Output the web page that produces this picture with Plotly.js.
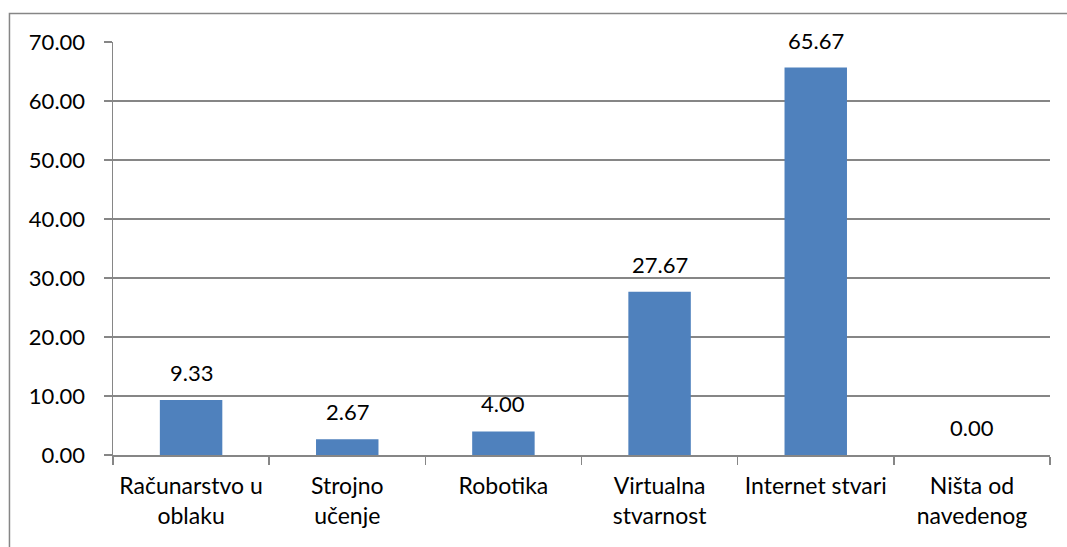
<!DOCTYPE html>
<html>
<head>
<meta charset="utf-8">
<script src="https://cdn.plot.ly/plotly-3.0.1.min.js"></script>
<style>html,body{margin:0;padding:0;background:#fff;}#chart{width:1067px;height:547px;}</style>
</head>
<body>
<div id="chart"></div>
<script>
const categories = ["Računarstvo u<br>oblaku", "Strojno<br>učenje", "Robotika", "Virtualna<br>stvarnost", "Internet stvari", "Ništa od<br>navedenog"];
const values = [9.33, 2.67, 4.00, 27.67, 65.67, 0.00];
const yTicks = [0, 10, 20, 30, 40, 50, 60, 70];

const fontFam = "Lato, 'Open Sans', sans-serif";
const grey = "#868686";

const annotations = categories.map((c, i) => ({
  x: c, y: values[i], xref: "x", yref: "y",
  text: values[i].toFixed(2), showarrow: false,
  yanchor: "bottom", yshift: 12,
  font: {family: fontFam, size: 22, color: "#000"}
}));

const data = [{
  type: "bar", x: categories, y: values,
  marker: {color: "#4F81BD"},
  hoverinfo: "none"
}];

const layout = {
  width: 1067, height: 547,
  margin: {l: 113, r: 17, t: 42, b: 92},
  paper_bgcolor: "#fff", plot_bgcolor: "#fff",
  bargap: 0.6,
  showlegend: false,
  font: {family: fontFam, size: 22, color: "#000"},
  xaxis: {
    type: "category", tickson: "boundaries", ticks: "outside", ticklen: 8,
    tickcolor: grey, tickwidth: 1.5,
    showline: true, linecolor: grey, linewidth: 1.5,
    showgrid: false, fixedrange: true, ticklabelstandoff: 10,
    tickfont: {family: fontFam, size: 23, color: "#000"}
  },
  yaxis: {
    range: [0, 70], tickvals: yTicks, tickformat: ".2f",
    ticks: "outside", ticklen: 8, tickcolor: grey, tickwidth: 1.5,
    showline: true, linecolor: grey, linewidth: 1.5,
    showgrid: true, gridcolor: grey, gridwidth: 1.5,
    zeroline: false, ticklabelstandoff: 14, fixedrange: true,
    tickfont: {family: fontFam, size: 22, color: "#000"}
  },
  annotations: annotations,
  shapes: [{
    type: "rect", xref: "paper", yref: "paper",
    x0: -0.1105, x1: 1.1, y0: -0.4, y1: 1.069,
    line: {color: grey, width: 1.5}, fillcolor: "rgba(0,0,0,0)", layer: "below"
  }]
};

Plotly.newPlot("chart", data, layout, {displayModeBar: false, staticPlot: true});
</script>
</body>
</html>
